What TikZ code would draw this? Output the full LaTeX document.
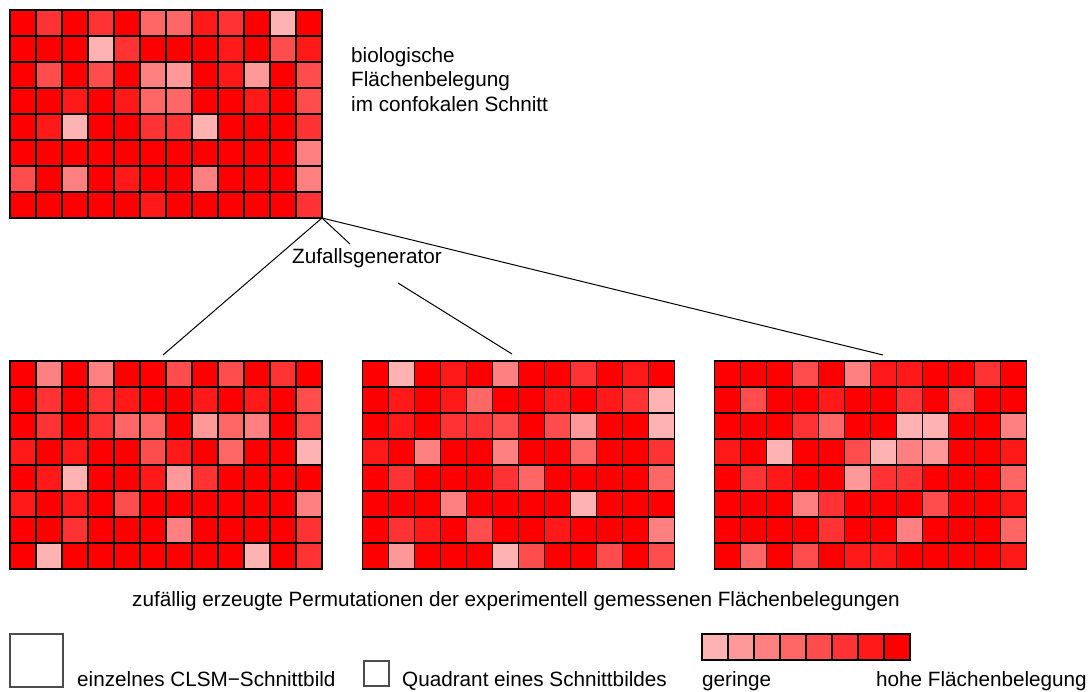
\documentclass[tikz,border=0pt]{standalone}
\usepackage{fontspec}
\setmainfont{Liberation Sans}

\tikzset{
  x=1pt, y=-1pt,
  cell/.style={draw=black, line width=1.6pt},
  gridframe/.style={minimum width=312pt, minimum height=208pt, inner sep=0pt, outer sep=0pt},
  lbl/.style={inner sep=0pt, font=\fontsize{20.7}{24.5}\selectfont},
  link/.style={draw=black, line width=1pt},
  legendbox/.style={draw=black!70, line width=1.6pt, inner sep=0pt, outer sep=0pt},
}

% one 12 x 8 grid of shaded cells; level 1 (light) ... 8 (pure red)
\newcommand\heatgrid[3]{%
  \node[gridframe, anchor=north west] (#1) at (#2) {};
  \foreach \row [count=\r from 0] in {#3} {
    \foreach \v [count=\c from 0] in \row {
      \pgfmathtruncatemacro\pct{20+10*\v}
      \filldraw[cell, fill=red!\pct] (#1.north west) ++(\c*26,\r*26) rectangle ++(26,26);
    }
  }
}

\begin{document}
\begin{tikzpicture}
\useasboundingbox (0,0) rectangle (1091,692);

% measured section
\heatgrid{top}{10,10}{
  {8,6,8,6,8,4,4,7,6,8,1,8},
  {8,8,8,1,6,8,8,8,7,8,5,7},
  {8,5,8,5,8,3,2,8,7,2,8,5},
  {8,8,7,8,7,4,4,8,8,7,8,5},
  {8,7,1,8,8,6,6,1,8,8,8,6},
  {8,8,8,8,8,8,8,8,8,8,8,3},
  {5,8,3,8,7,8,8,3,8,8,8,3},
  {8,8,8,8,8,7,8,8,8,8,8,6}}

\node[lbl, align=left, anchor=north west] (bio) at (351,47)
  {biologische\\Flächenbelegung\\im confokalen Schnitt};

% random permutations
\heatgrid{permA}{10,361}{
  {8,3,8,3,8,8,5,8,5,8,6,8},
  {8,6,8,6,7,8,8,7,8,7,8,5},
  {8,6,8,6,4,4,8,2,4,3,8,5},
  {7,8,7,8,8,5,7,8,4,8,8,1},
  {8,7,1,8,8,7,2,6,8,8,8,8},
  {7,8,7,8,5,8,8,8,8,8,8,3},
  {8,8,6,8,8,8,3,8,8,8,8,6},
  {8,1,8,8,8,8,8,8,8,1,8,6}}

\heatgrid{permB}{362.5,361}{
  {8,1,8,7,8,3,8,8,6,8,7,8},
  {8,7,8,7,4,8,8,7,8,7,6,1},
  {8,7,8,6,6,5,8,5,2,8,8,1},
  {7,8,3,8,8,3,8,8,4,8,8,6},
  {8,6,8,8,8,6,4,8,8,8,8,4},
  {8,8,8,3,8,8,8,8,1,8,8,8},
  {8,6,7,8,5,8,8,7,8,8,8,3},
  {8,2,8,8,8,1,5,8,8,5,8,5}}

\heatgrid{permC}{714.5,361}{
  {8,8,8,5,8,3,7,7,8,8,6,8},
  {8,5,8,8,7,8,8,6,8,5,8,8},
  {8,8,8,6,4,8,8,1,1,8,8,3},
  {7,8,1,8,8,5,1,3,2,8,8,7},
  {8,6,7,8,8,2,6,6,8,8,8,4},
  {8,8,8,3,6,8,8,8,5,8,8,7},
  {8,8,8,8,6,8,8,3,8,8,8,4},
  {8,4,8,5,8,7,7,8,8,8,8,7}}

% random generator and its connectors
\node[lbl] (gen) at (367,258) {Zufallsgenerator};
\coordinate (genIn) at (350,244);
\coordinate (genOut) at (398,283);
\coordinate (inA) at (163,355);
\coordinate (inB) at (512,354);
\coordinate (inC) at (883,355);
\draw[link] (top.south east) -- (inA);
\draw[link] (top.south east) -- (genIn);
\draw[link] (genOut) -- (inB);
\draw[link] (top.south east) -- (inC);

\node[lbl, anchor=base] (perm) at (516,606)
  {zufällig erzeugte Permutationen der experimentell gemessenen Flächenbelegungen};

% legend
\node[legendbox, minimum size=53pt, anchor=north west] (bigsq) at (10,634) {};
\node[lbl, anchor=base west] (bigtxt) at (77,686) {einzelnes CLSM−Schnittbild};
\node[legendbox, minimum size=25pt, anchor=north west] (smallsq) at (364,661) {};
\node[lbl, anchor=base west] (smalltxt) at (402,686) {Quadrant eines Schnittbildes};
\foreach \v in {1,...,8} {
  \pgfmathtruncatemacro\pct{20+10*\v}
  \filldraw[cell, fill=red!\pct] (702+\v*26-26,634) rectangle ++(26,26);
}
\node[lbl, anchor=base west] (low) at (702,686) {geringe};
\node[lbl, anchor=base east] (high) at (1087,686) {hohe Flächenbelegung};
\end{tikzpicture}
\end{document}
